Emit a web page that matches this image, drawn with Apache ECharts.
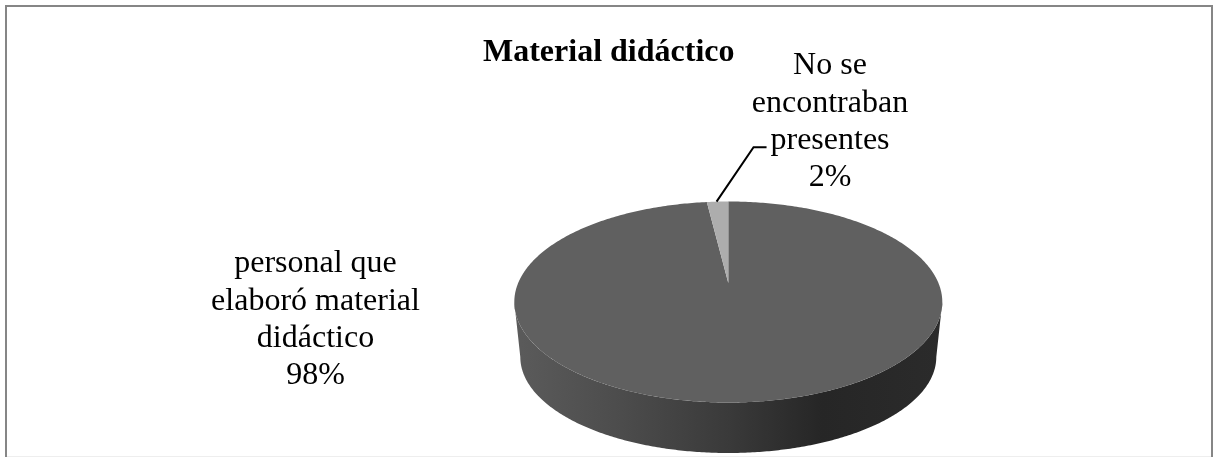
<!DOCTYPE html>
<html>
<head>
<meta charset="utf-8">
<style>html,body{margin:0;padding:0;background:#fff}#c{width:1213px;height:457px}</style>
<script src="https://cdn.jsdelivr.net/npm/echarts@6/dist/echarts.min.js"></script>
</head>
<body>
<div id="c"></div>
<script>
const chartTitle = 'Material didáctico';
const categories = ['personal que\nelaboró material\ndidáctico', 'No se\nencontraban\npresentes'];
const percentLabels = ['98%', '2%'];
const values = [98.4, 1.6];

const FONT = '"Liberation Serif","Times New Roman",serif';
const top3d = {cx: 728.3, cy: 302, rx: 214, ry: 100.5, apexY: 283};
const bottom3d = {cx: 728.3, cy: 357, rx: 208, ry: 96};
const labelAnchor = [{x: 315.5, y: 320}, {x: 830, y: 122}];
const faceColors = ['#606060', '#adadad'];
const total = values.reduce((a, b) => a + b, 0);

function pt(e, deg) {
  const r = deg * Math.PI / 180;
  return [e.cx + e.rx * Math.sin(r), e.cy - e.ry * Math.cos(r)];
}
function arc(e, a, b) {
  const n = Math.max(2, Math.ceil(Math.abs(b - a) * 1.5));
  const out = [];
  for (let i = 0; i <= n; i++) out.push(pt(e, a + (b - a) * i / n));
  return out;
}
function sliceRange(i) {
  let s = 0;
  for (let k = 0; k < i; k++) s += values[k];
  return [s / total * 360, (s + values[i]) / total * 360];
}
function renderSide(params, api) {
  const [a0, a1] = sliceRange(params.dataIndex);
  const a = Math.max(a0, 90), b = Math.min(a1, 270);
  if (b <= a) return {type: 'group', children: []};
  return {
    type: 'polygon',
    shape: {points: arc(top3d, a, b).concat(arc(bottom3d, b, a))},
    style: {
      fill: new echarts.graphic.LinearGradient(0, 0, 1, 0, [
        {offset: 0, color: '#5b5b5b'},
        {offset: 0.25, color: '#4c4c4c'},
        {offset: 0.5, color: '#3a3a3a'},
        {offset: 0.72, color: '#262626'},
        {offset: 1, color: '#2b2b2b'}
      ])
    }
  };
}
function renderTop(params, api) {
  const i = params.dataIndex;
  const [a0, a1] = sliceRange(i);
  const apex = [top3d.cx, top3d.apexY];
  const children = [{
    type: 'polygon',
    shape: {points: [apex].concat(arc(top3d, a0, a1))},
    style: {fill: faceColors[i]}
  }, {
    type: 'text',
    style: {
      x: labelAnchor[i].x, y: labelAnchor[i].y,
      text: categories[i] + '\n' + percentLabels[i],
      fill: '#000', font: '32px ' + FONT,
      align: 'center', verticalAlign: 'middle', lineHeight: 37.3
    }
  }];
  if (i === 1) {
    const s = pt(top3d, (a0 + a1) / 2);
    children.push({
      type: 'polyline',
      shape: {points: [[s[0] - 1, s[1]], [s[0] + 36, s[1] - 54.5], [s[0] + 49, s[1] - 54.5]]},
      style: {stroke: '#000', lineWidth: 2, fill: 'none'}
    });
  }
  return {type: 'group', children};
}
const chart = echarts.init(document.getElementById('c'), null, {renderer: 'canvas'});
chart.setOption({
  animation: false,
  backgroundColor: '#fff',
  title: {
    text: chartTitle, left: 478, top: 32,
    textStyle: {fontFamily: FONT, fontWeight: 'bold', fontSize: 32, color: '#000'}
  },
  graphic: [
    {type: 'polyline', silent: true, shape: {points: [[6, 457], [6, 6], [1212, 6], [1212, 457]]},
     style: {stroke: '#868686', lineWidth: 2, fill: 'none'}},
    {type: 'line', silent: true, shape: {x1: 7, y1: 456.5, x2: 1211, y2: 456.5},
     style: {stroke: '#eeeeee', lineWidth: 1}}
  ],
  series: [
    {type: 'custom', coordinateSystem: 'none', z: 1, silent: true, renderItem: renderSide,
     data: values.map((v, i) => ({name: categories[i], value: v}))},
    {type: 'custom', coordinateSystem: 'none', z: 2, silent: true, renderItem: renderTop,
     data: values.map((v, i) => ({name: categories[i], value: v}))}
  ]
});
</script>
</body>
</html>
